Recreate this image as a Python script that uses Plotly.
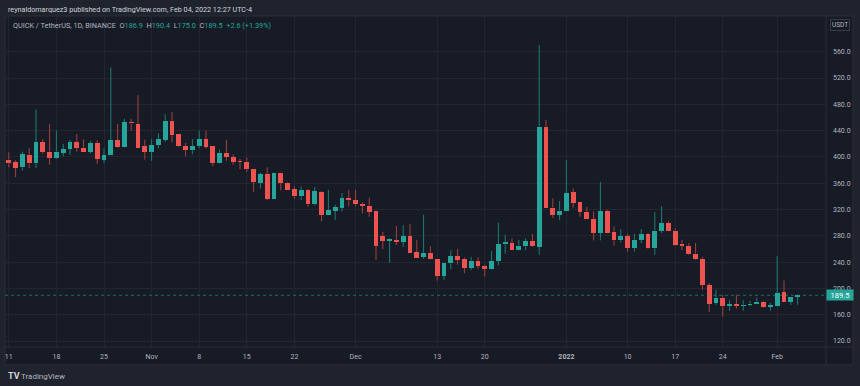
import plotly.graph_objects as go
import pandas as pd

# ---------------- data ----------------
dates = pd.date_range("2021-10-11", "2022-02-04", freq="D")

opens = [396, 392, 384, 403, 390, 422, 408, 399, 406, 412,
         422, 414, 408, 421, 396, 403, 426, 415, 453, 450,
         416, 408, 418, 426, 455, 435, 416, 410, 416, 427,
         417, 391, 406, 400, 393, 393, 382, 361, 374, 336,
         375, 361, 351, 340, 349, 328, 347, 311, 318, 323,
         337, 334, 328, 326, 317, 280, 272, 274, 271, 279,
         255, 248, 254, 245, 219, 238, 249, 245, 231, 242,
         234, 229, 242, 267, 269, 258, 265, 272, 263, 445,
         323, 312, 318, 346, 331, 316, 305, 285, 318, 286,
         273, 279, 262, 274, 283, 261, 288, 299, 288, 268,
         265, 253, 245, 205, 178, 186, 173, 176, 174, 175,
         177, 180, 172, 174, 194, 180, 186.9]

highs = [407, 395, 408, 413, 472, 427, 450, 440, 420, 426,
         435, 427, 424, 425, 413, 536, 450, 458, 458, 494,
         426, 427, 436, 465, 468, 435, 421, 427, 440, 440,
         417, 411, 426, 404, 397, 399, 382, 376, 384, 376,
         376, 362, 355, 355, 351, 354, 348, 350, 327, 345,
         350, 350, 331, 338, 318, 286, 276, 295, 296, 298,
         274, 312, 264, 245, 238, 258, 260, 247, 248, 247,
         236, 257, 300, 281, 276, 274, 276, 283, 570, 456,
         337, 333, 395, 352, 331, 324, 317, 362, 320, 294,
         290, 283, 283, 290, 284, 316, 325, 302, 291, 274,
         269, 269, 248, 208, 198, 190, 182, 190, 182, 181,
         186, 181, 178, 249, 212, 187, 190.4]

lows = [384, 369, 379, 383, 383, 405, 388, 397, 401, 403,
        408, 408, 405, 389, 391, 403, 414, 415, 440, 413,
        396, 394, 413, 423, 422, 415, 401, 404, 413, 413,
        386, 391, 394, 388, 381, 377, 347, 352, 334, 336,
        349, 350, 336, 334, 324, 326, 302, 311, 304, 317,
        325, 325, 314, 309, 243, 260, 239, 266, 263, 254,
        247, 245, 244, 212, 213, 229, 236, 223, 228, 230,
        218, 228, 235, 253, 258, 258, 258, 263, 251, 323,
        307, 304, 318, 323, 309, 305, 273, 273, 285, 265,
        270, 256, 256, 269, 260, 251, 284, 287, 265, 258,
        251, 243, 198, 164, 175, 157, 166, 169, 166, 173,
        176, 171, 166, 174, 180, 175, 175.0]

closes = [390, 383, 404, 390, 422, 408, 399, 408, 412, 422,
          414, 408, 421, 397, 403, 426, 415, 453, 451, 414,
          408, 418, 427, 455, 433, 416, 410, 416, 427, 415,
          391, 406, 400, 393, 392, 381, 362, 374, 336, 375,
          360, 350, 340, 349, 328, 348, 312, 319, 324, 337,
          334, 328, 326, 316, 264, 272, 275, 271, 279, 254,
          247, 254, 245, 219, 238, 249, 243, 231, 242, 234,
          229, 242, 267, 270, 259, 265, 272, 264, 446, 323,
          312, 318, 345, 330, 316, 305, 285, 318, 285, 273,
          279, 262, 274, 282, 261, 288, 299, 288, 266, 265,
          253, 244, 205, 177, 186, 174, 176, 173, 175, 177,
          180, 172, 175, 193, 180, 187, 189.5]

tick_dates = ["2021-10-11", "2021-10-18", "2021-10-25", "2021-11-01", "2021-11-08",
              "2021-11-15", "2021-11-22", "2021-12-01", "2021-12-13", "2021-12-20",
              "2022-01-01", "2022-01-10", "2022-01-17", "2022-01-24", "2022-02-01"]
tick_labels = ["11", "18", "25", "Nov", "8", "15", "22", "Dec", "13", "20",
               "<b>2022</b>", "10", "17", "24", "Feb"]
price_ticks = [120, 160, 200, 240, 280, 320, 360, 400, 440, 480, 520, 560]
last_price = 189.5

# ---------------- styling ----------------
UP, DOWN = "#26a69a", "#ef5350"
UP_WICK, DOWN_WICK = "#1f7d75", "#a9413f"
BG_PANE = "#171b26"
BG_OUTER = "#1f232e"
GRID = "#222631"
BORDER = "#2a2e39"
TXT = "#b2b5be"
FONT = "Roboto"

W, H = 860, 386
ML, MR, MT, MB = 5, 34, 16, 39          # plot area = page x 5..826, y 16..347
PW, PH = W - ML - MR, H - MT - MB


def px(x):  # page x -> paper x
    return (x - ML) / PW


def py(y):  # page y -> paper y
    return (H - MB - y) / PH


# bodies
base = [min(o, c) for o, c in zip(opens, closes)]
height = [max(abs(c - o), 1.4) for o, c in zip(opens, closes)]
colors = [UP if c >= o else DOWN for o, c in zip(opens, closes)]

# wicks (segments above and below the body)
wx = {True: [], False: []}
wy = {True: [], False: []}
for d, o, h, l, c in zip(dates, opens, highs, lows, closes):
    up = c >= o
    top, bot = max(o, c), min(o, c)
    wx[up] += [d, d, None, d, d, None]
    wy[up] += [h, top, None, bot, l, None]

fig = go.Figure()
fig.add_trace(go.Bar(x=dates, y=height, base=base, marker_color=colors,
                     marker_line_width=0, width=0.72 * 86400000,
                     showlegend=False, hoverinfo="skip"))
fig.add_trace(go.Scatter(x=wx[True], y=wy[True], mode="lines",
                         line=dict(color=UP_WICK, width=1), showlegend=False,
                         hoverinfo="skip"))
fig.add_trace(go.Scatter(x=wx[False], y=wy[False], mode="lines",
                         line=dict(color=DOWN_WICK, width=1), showlegend=False,
                         hoverinfo="skip"))

PX_PER_DAY = 6.8
x_left = pd.Timestamp("2021-11-01") - pd.Timedelta(days=(151.6 - ML) / PX_PER_DAY)
x_right = x_left + pd.Timedelta(days=PW / PX_PER_DAY)
y_bottom = 560 - (347 - 51.7) / 0.6575
y_top = 560 + (51.7 - 16) / 0.6575

shapes = [
    # pane background
    dict(type="rect", xref="paper", yref="paper", x0=px(5), x1=px(853), y0=py(365), y1=py(16),
         fillcolor=BG_PANE, line=dict(color=BORDER, width=1), layer="below"),
    # price axis separator
    dict(type="line", xref="paper", yref="paper", x0=1, x1=1, y0=py(365), y1=py(16),
         line=dict(color=BORDER, width=1)),
    # time axis separator
    dict(type="line", xref="paper", yref="paper", x0=px(5), x1=px(853), y0=0, y1=0,
         line=dict(color=BORDER, width=1)),
    # last price line
    dict(type="line", xref="paper", yref="y", x0=0, x1=1, y0=last_price, y1=last_price,
         line=dict(color="rgba(38,166,154,0.55)", width=1, dash="dot")),
]

val = lambda s: f"<span style='color:{UP}'>{s}</span>"
legend_txt = ("QUICK / TetherUS, 1D, BINANCE&nbsp;&nbsp;O" + val("186.9") + "&nbsp;&nbsp;H" + val("190.4")
              + "&nbsp;&nbsp;L" + val("175.0") + "&nbsp;&nbsp;C" + val("189.5") + "&nbsp;&nbsp;"
              + val("+2.6 (+1.39%)"))

annotations = [
    dict(text="reynaldomarquez3 published on TradingView.com, Feb 04, 2022 12:27 UTC-4",
         xref="paper", yref="paper", x=px(6), y=py(9), xanchor="left", yanchor="middle",
         showarrow=False, font=dict(family=FONT, size=7.2, color="#d1d4dc")),
    dict(text=legend_txt, xref="paper", yref="paper", x=px(11), y=py(25), xanchor="left",
         yanchor="middle", showarrow=False, font=dict(family=FONT, size=7.3, color=TXT)),
    dict(text="USDT", xref="paper", yref="paper", x=px(840), y=py(25), xanchor="center",
         yanchor="middle", showarrow=False, bordercolor="#363a45", borderwidth=1, borderpad=1,
         font=dict(family=FONT, size=6.5, color=TXT)),
    dict(text="189.5", xref="paper", yref="y", x=1, y=last_price, xanchor="left", yanchor="middle",
         showarrow=False, bgcolor=UP, width=24, height=8, borderpad=1, align="center",
         font=dict(family=FONT, size=7.5, color="#ffffff")),
    dict(text="<b>TV</b>", xref="paper", yref="paper", x=px(6), y=py(376), xanchor="left",
         yanchor="middle", showarrow=False, font=dict(family=FONT, size=9, color="#d1d4dc")),
    dict(text="TradingView", xref="paper", yref="paper", x=px(19), y=py(376), xanchor="left",
         yanchor="middle", showarrow=False, font=dict(family=FONT, size=8, color=TXT)),
]

fig.update_layout(
    width=W, height=H,
    margin=dict(l=ML, r=MR, t=MT, b=MB),
    paper_bgcolor=BG_OUTER, plot_bgcolor=BG_PANE,
    showlegend=False, bargap=0,
    shapes=shapes, annotations=annotations,
    font=dict(family=FONT, size=7, color=TXT),
)
fig.update_xaxes(type="date", range=[x_left, x_right], tickvals=tick_dates, ticktext=tick_labels,
                 showgrid=True, gridcolor=GRID, gridwidth=1, zeroline=False, showline=False,
                 ticks="", tickfont=dict(family=FONT, size=7, color=TXT), ticklabelstandoff=4,
                 automargin=False, fixedrange=True)
fig.update_yaxes(side="right", range=[y_bottom, y_top], tickvals=price_ticks,
                 ticktext=[f"{v:.1f}" for v in price_ticks],
                 showgrid=True, gridcolor=GRID, gridwidth=1, zeroline=False, showline=False,
                 ticks="", tickfont=dict(family=FONT, size=7, color=TXT), ticklabelstandoff=6,
                 automargin=False, fixedrange=True)

fig.write_html("out.html",
               config={"displayModeBar": False, "staticPlot": True},
               post_script="document.body.style.margin='0';"
                           "document.body.style.background='" + BG_OUTER + "';")
